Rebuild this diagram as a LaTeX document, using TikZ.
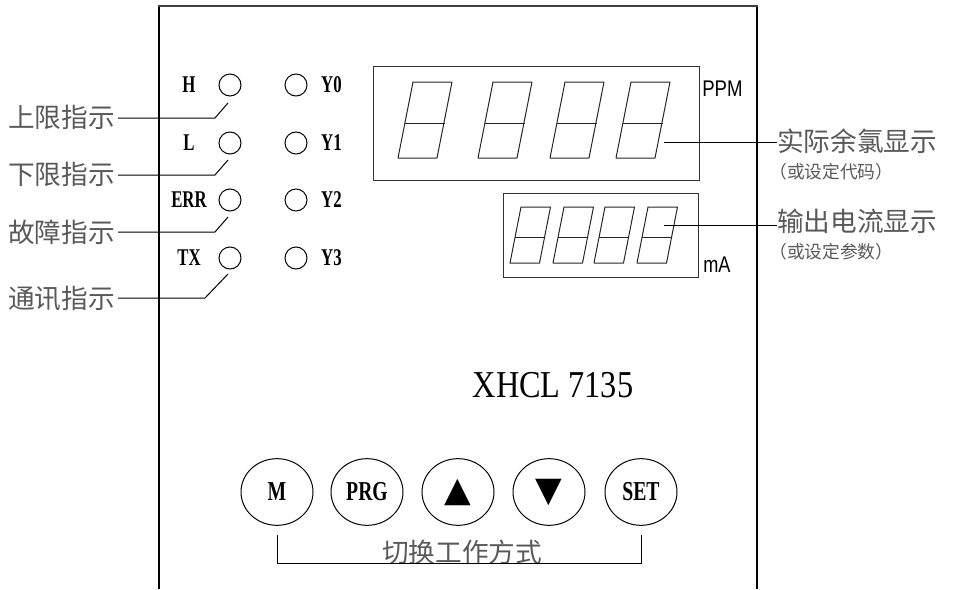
\documentclass[tikz,border=0pt]{standalone}
\usepackage{fontspec}
\usepackage{graphicx}
\setmainfont{Liberation Serif}
\newfontfamily\cjk{Noto Sans CJK SC}
\newfontfamily\symfont{DejaVu Sans}
\newfontfamily\arialfont{Liberation Sans}
\usetikzlibrary{shapes.geometric}
\definecolor{txtgray}{gray}{0.35}
\newcommand{\cond}[2]{\scalebox{#1}[1]{#2}}
\begin{document}
\begin{tikzpicture}[x=0.75pt,y=-0.75pt,
  frameline/.style={line width=1.5pt,black},
  thin/.style={line width=0.75pt,black},
  led/.style={circle,draw,line width=0.75pt,minimum size=16.5pt,inner sep=0pt},
  ledlabel/.style={inner sep=0pt,font=\fontsize{18}{18}\selectfont\bfseries},
  cjklabel/.style={inner sep=0pt,text=txtgray,font=\cjk\fontsize{20}{20}\selectfont},
  cjksub/.style={inner sep=0pt,text=txtgray,font=\cjk\fontsize{13.3}{13.3}\selectfont},
  unitlabel/.style={inner sep=0pt,font=\arialfont\fontsize{17}{17}\selectfont},
  button/.style={ellipse,draw,line width=0.75pt,minimum width=54pt,minimum height=50pt,inner sep=0pt,font=\fontsize{20.5}{20.5}\selectfont\bfseries},
  dispbox/.style={draw,line width=0.75pt,black!80},
  seg/.style={line width=0.75pt,black!85}]
\useasboundingbox (0,0) rectangle (953,589);
% frame
\draw[frameline] (159,589) -- (159,6);
\draw[frameline] (757,6) -- (757,589);
\draw[frameline,black!75] (158.4,6) -- (757.6,6);
% LEDs left column
\foreach \n/\t/\y in {H/H/85,L/L/143,E/ERR/200,T/TX/258}{
  \node[led] (led\n) at (230,\y) {};
  \node[ledlabel] (lab\n) at (189,\y) {\cond{0.7}{\t}};
}
% LEDs right column
\foreach \n/\y in {0/85,1/143,2/200,3/258}{
  \node[led] (ledY\n) at (296,\y) {};
  \node[ledlabel] (labY\n) at (331.5,\y) {\cond{0.7}{Y\n}};
}
% left descriptions
\node[cjklabel,anchor=east] (dH) at (115,117) {上限指示};
\node[cjklabel,anchor=east] (dL) at (115,174) {下限指示};
\node[cjklabel,anchor=east] (dE) at (115,232) {故障指示};
\node[cjklabel,anchor=east] (dT) at (115,299) {通讯指示};
\coordinate (kH1) at (228,103); \coordinate (kH2) at (215,118); \coordinate (eH) at (118,118);
\coordinate (kL1) at (228,160); \coordinate (kL2) at (215,175); \coordinate (eL) at (118,175);
\coordinate (kE1) at (228,217); \coordinate (kE2) at (215,232); \coordinate (eE) at (118,232);
\coordinate (kT1) at (228,274); \coordinate (kT2) at (205,298); \coordinate (eT) at (118,298);
\draw[thin] (kH1) -- (kH2) -- (eH);
\draw[thin] (kL1) -- (kL2) -- (eL);
\draw[thin] (kE1) -- (kE2) -- (eE);
\draw[thin] (kT1) -- (kT2) -- (eT);
% big display
\node[dispbox,minimum width=244.5pt,minimum height=85.5pt,inner sep=0pt] (bigbox) at (536,123) {};
\foreach \x in {413,493,565,631}{
  \draw[seg,line join=round] (\x,82) -- (\x+39,82) -- (\x+24,158) -- (\x-15,158) -- cycle;
  \draw[seg] (\x-8.1,123) -- (\x+31.5,123);
}
\node[unitlabel,anchor=west] (ppm) at (702,89) {\cond{0.82}{PPM}};
% small display
\node[dispbox,minimum width=146.25pt,minimum height=63pt,inner sep=0pt] (smallbox) at (600.5,235) {};
\foreach \x in {521,564,605,648}{
  \draw[seg,line join=round] (\x,207) -- (\x+29.5,207) -- (\x+18.5,263) -- (\x-11,263) -- cycle;
  \draw[seg] (\x-5.9,237) -- (\x+23.6,237);
}
\node[unitlabel,anchor=west] (ma) at (703,265) {\cond{0.8}{mA}};
% right descriptions
\node[cjklabel,anchor=west] (dPPM) at (777,141) {实际余氯显示};
\node[cjksub,anchor=west] (sPPM) at (769,172) {（或设定代码）};
\node[cjklabel,anchor=west] (dMA) at (777,221) {输出电流显示};
\node[cjksub,anchor=west] (sMA) at (769,252) {（或设定参数）};
\coordinate (sP) at (664,142); \coordinate (sM) at (664,225);
\draw[thin] (sP) -- (dPPM.west |- sP);
\draw[thin] (sM) -- (dMA.west |- sM);
% model
\node[inner sep=0pt,font=\fontsize{28.5}{28.5}\selectfont] (model) at (553,385) {\cond{0.85}{XHCL 7135}};
% buttons
\node[button] (bM) at (277,492) {\cond{0.72}{M}};
\node[button] (bPRG) at (367,492) {\cond{0.72}{PRG}};
\node[button] (bUp) at (458,492) {\symfont\fontsize{26}{26}\selectfont ▲};
\node[button] (bDn) at (549,492) {\symfont\fontsize{26}{26}\selectfont ▼};
\node[button] (bSET) at (641,492) {\cond{0.72}{SET}};
% bracket
\node[cjklabel] (mode) at (462,552) {切换工作方式};
\coordinate (b1) at (277,535); \coordinate (b2) at (641,535);
\draw[thin] (b1) -- (277,563) -- (641,563) -- (b2);
\end{tikzpicture}
\end{document}
